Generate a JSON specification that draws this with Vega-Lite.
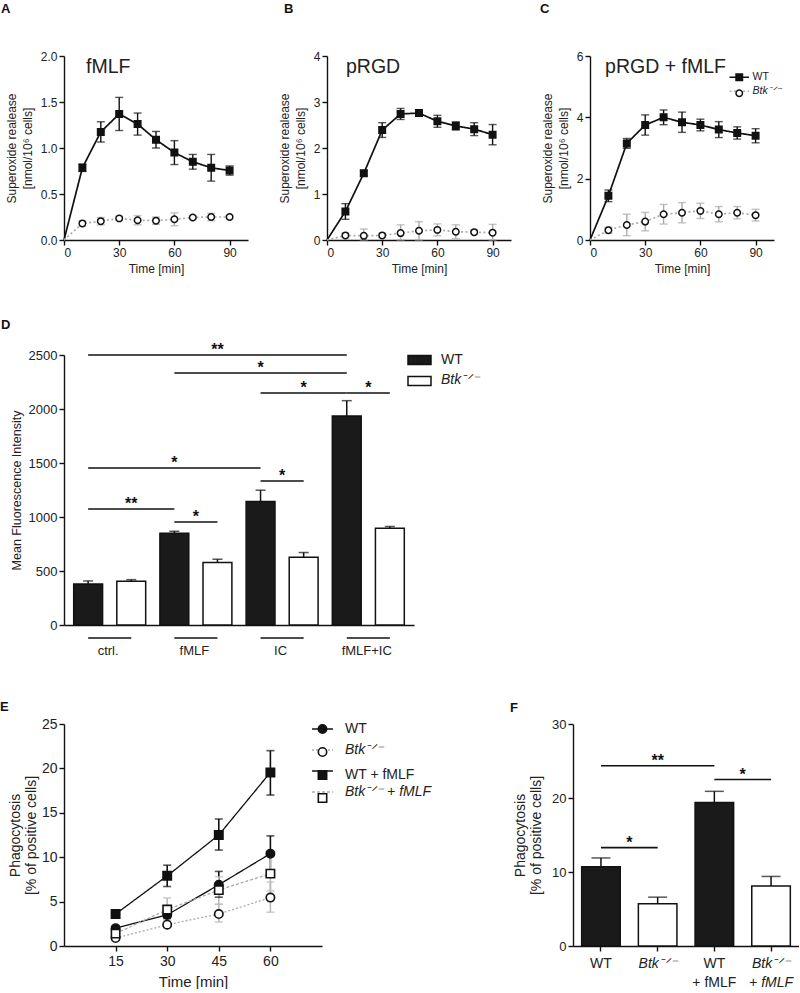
{
"$schema": "https://vega.github.io/schema/vega-lite/v6.json",
"padding": {"left": 0, "top": 3, "right": 0, "bottom": 0},
"background": "white",
"config": {
  "font": "Liberation Sans",
  "view": {"stroke": null},
  "axis": {"labelFont": "Liberation Sans", "titleFont": "Liberation Sans", "labelFontSize": 12, "titleFontSize": 12, "labelColor": "#222", "titleColor": "#222", "titleFontWeight": "normal", "domainColor": "#111", "domainWidth": 1.4, "tickColor": "#111", "tickWidth": 1.4, "tickSize": 5, "labelPadding": 2, "grid": false, "titleLineHeight": 16},
  "legend": {"padding": 0, "labelFont": "Liberation Sans", "labelColor": "#222"},
  "title": {"font": "Liberation Sans", "fontSize": 13, "fontWeight": "bold", "color": "#111", "anchor": "start", "frame": "group"}
},
"datasets": {
  "sox": [
    {"panel":"A","series":"WT","t":0,"v":0,"lo":0,"hi":0},
    {"panel":"A","series":"WT","t":10,"v":0.785,"lo":0.745,"hi":0.825},
    {"panel":"A","series":"WT","t":20,"v":1.175,"lo":1.065,"hi":1.285},
    {"panel":"A","series":"WT","t":30,"v":1.37,"lo":1.19,"hi":1.55},
    {"panel":"A","series":"WT","t":40,"v":1.26,"lo":1.14,"hi":1.38},
    {"panel":"A","series":"WT","t":50,"v":1.09,"lo":1.0,"hi":1.18},
    {"panel":"A","series":"WT","t":60,"v":0.95,"lo":0.82,"hi":1.08},
    {"panel":"A","series":"WT","t":70,"v":0.85,"lo":0.77,"hi":0.93},
    {"panel":"A","series":"WT","t":80,"v":0.785,"lo":0.64,"hi":0.93},
    {"panel":"A","series":"WT","t":90,"v":0.755,"lo":0.705,"hi":0.805},
    {"panel":"A","series":"Btk⁻ᐟ⁻","t":0,"v":0,"lo":0,"hi":0},
    {"panel":"A","series":"Btk⁻ᐟ⁻","t":10,"v":0.18,"lo":0.15,"hi":0.21},
    {"panel":"A","series":"Btk⁻ᐟ⁻","t":20,"v":0.205,"lo":0.165,"hi":0.245},
    {"panel":"A","series":"Btk⁻ᐟ⁻","t":30,"v":0.235,"lo":0.215,"hi":0.255},
    {"panel":"A","series":"Btk⁻ᐟ⁻","t":40,"v":0.215,"lo":0.165,"hi":0.265},
    {"panel":"A","series":"Btk⁻ᐟ⁻","t":50,"v":0.21,"lo":0.17,"hi":0.25},
    {"panel":"A","series":"Btk⁻ᐟ⁻","t":60,"v":0.225,"lo":0.155,"hi":0.295},
    {"panel":"A","series":"Btk⁻ᐟ⁻","t":70,"v":0.245,"lo":0.225,"hi":0.265},
    {"panel":"A","series":"Btk⁻ᐟ⁻","t":80,"v":0.25,"lo":0.21,"hi":0.29},
    {"panel":"A","series":"Btk⁻ᐟ⁻","t":90,"v":0.25,"lo":0.23,"hi":0.27},
    {"panel":"B","series":"WT","t":0,"v":0,"lo":0,"hi":0},
    {"panel":"B","series":"WT","t":10,"v":0.62,"lo":0.45,"hi":0.79},
    {"panel":"B","series":"WT","t":20,"v":1.45,"lo":1.39,"hi":1.51},
    {"panel":"B","series":"WT","t":30,"v":2.39,"lo":2.23,"hi":2.55},
    {"panel":"B","series":"WT","t":40,"v":2.74,"lo":2.62,"hi":2.86},
    {"panel":"B","series":"WT","t":50,"v":2.76,"lo":2.69,"hi":2.83},
    {"panel":"B","series":"WT","t":60,"v":2.58,"lo":2.45,"hi":2.71},
    {"panel":"B","series":"WT","t":70,"v":2.48,"lo":2.39,"hi":2.57},
    {"panel":"B","series":"WT","t":80,"v":2.41,"lo":2.27,"hi":2.55},
    {"panel":"B","series":"WT","t":90,"v":2.29,"lo":2.07,"hi":2.51},
    {"panel":"B","series":"Btk⁻ᐟ⁻","t":0,"v":0,"lo":0,"hi":0},
    {"panel":"B","series":"Btk⁻ᐟ⁻","t":10,"v":0.1,"lo":0.05,"hi":0.15},
    {"panel":"B","series":"Btk⁻ᐟ⁻","t":20,"v":0.09,"lo":0,"hi":0.24},
    {"panel":"B","series":"Btk⁻ᐟ⁻","t":30,"v":0.1,"lo":0.05,"hi":0.15},
    {"panel":"B","series":"Btk⁻ᐟ⁻","t":40,"v":0.15,"lo":0,"hi":0.33},
    {"panel":"B","series":"Btk⁻ᐟ⁻","t":50,"v":0.2,"lo":0,"hi":0.4},
    {"panel":"B","series":"Btk⁻ᐟ⁻","t":60,"v":0.22,"lo":0.09,"hi":0.35},
    {"panel":"B","series":"Btk⁻ᐟ⁻","t":70,"v":0.18,"lo":0.03,"hi":0.33},
    {"panel":"B","series":"Btk⁻ᐟ⁻","t":80,"v":0.17,"lo":0.12,"hi":0.22},
    {"panel":"B","series":"Btk⁻ᐟ⁻","t":90,"v":0.16,"lo":0,"hi":0.34},
    {"panel":"C","series":"WT","t":0,"v":0,"lo":0,"hi":0},
    {"panel":"C","series":"WT","t":10,"v":1.44,"lo":1.25,"hi":1.63},
    {"panel":"C","series":"WT","t":20,"v":3.15,"lo":2.99,"hi":3.31},
    {"panel":"C","series":"WT","t":30,"v":3.75,"lo":3.42,"hi":4.08},
    {"panel":"C","series":"WT","t":40,"v":4.0,"lo":3.76,"hi":4.24},
    {"panel":"C","series":"WT","t":50,"v":3.84,"lo":3.51,"hi":4.17},
    {"panel":"C","series":"WT","t":60,"v":3.75,"lo":3.56,"hi":3.94},
    {"panel":"C","series":"WT","t":70,"v":3.6,"lo":3.34,"hi":3.86},
    {"panel":"C","series":"WT","t":80,"v":3.49,"lo":3.29,"hi":3.69},
    {"panel":"C","series":"WT","t":90,"v":3.4,"lo":3.17,"hi":3.63},
    {"panel":"C","series":"Btk⁻ᐟ⁻","t":0,"v":0,"lo":0,"hi":0},
    {"panel":"C","series":"Btk⁻ᐟ⁻","t":10,"v":0.32,"lo":0.22,"hi":0.42},
    {"panel":"C","series":"Btk⁻ᐟ⁻","t":20,"v":0.49,"lo":0.14,"hi":0.84},
    {"panel":"C","series":"Btk⁻ᐟ⁻","t":30,"v":0.6,"lo":0.3,"hi":0.9},
    {"panel":"C","series":"Btk⁻ᐟ⁻","t":40,"v":0.84,"lo":0.52,"hi":1.16},
    {"panel":"C","series":"Btk⁻ᐟ⁻","t":50,"v":0.89,"lo":0.56,"hi":1.22},
    {"panel":"C","series":"Btk⁻ᐟ⁻","t":60,"v":0.95,"lo":0.7,"hi":1.2},
    {"panel":"C","series":"Btk⁻ᐟ⁻","t":70,"v":0.84,"lo":0.59,"hi":1.09},
    {"panel":"C","series":"Btk⁻ᐟ⁻","t":80,"v":0.89,"lo":0.69,"hi":1.09},
    {"panel":"C","series":"Btk⁻ᐟ⁻","t":90,"v":0.81,"lo":0.62,"hi":1.0}
  ],
  "ptitles": [
    {"panel":"A","label":"fMLF"},
    {"panel":"B","label":"pRGD"},
    {"panel":"C","label":"pRGD + fMLF"}
  ],
  "mfi": [
    {"cat":"ctrl.|WT","grp":"ctrl.","geno":"WT","v":380,"hi":408},
    {"cat":"ctrl.|Btk","grp":"ctrl.","geno":"Btk⁻ᐟ⁻","v":405,"hi":420},
    {"cat":"fMLF|WT","grp":"fMLF","geno":"WT","v":850,"hi":868},
    {"cat":"fMLF|Btk","grp":"fMLF","geno":"Btk⁻ᐟ⁻","v":578,"hi":609},
    {"cat":"IC|WT","grp":"IC","geno":"WT","v":1143,"hi":1248},
    {"cat":"IC|Btk","grp":"IC","geno":"Btk⁻ᐟ⁻","v":627,"hi":671},
    {"cat":"fMLF+IC|WT","grp":"fMLF+IC","geno":"WT","v":1935,"hi":2077},
    {"cat":"fMLF+IC|Btk","grp":"fMLF+IC","geno":"Btk⁻ᐟ⁻","v":896,"hi":912}
  ],
  "sigD": [
    {"a":"ctrl.|WT","b":"fMLF+IC|WT","y":2500,"s":"**","kind":"across","m":"fMLF|Btk"},
    {"a":"fMLF|WT","b":"fMLF+IC|WT","y":2333,"s":"*","kind":"across","m":"IC|WT"},
    {"a":"IC|WT","b":"fMLF+IC|WT","y":2148,"s":"*","kind":"across","m":"IC|Btk"},
    {"a":"fMLF+IC|WT","b":"fMLF+IC|Btk","y":2148,"s":"*","kind":"within","m":"fMLF+IC|WT"},
    {"a":"ctrl.|WT","b":"IC|WT","y":1454,"s":"*","kind":"across","m":"fMLF|WT"},
    {"a":"IC|WT","b":"IC|Btk","y":1333,"s":"*","kind":"within","m":"IC|WT"},
    {"a":"ctrl.|WT","b":"fMLF|WT","y":1074,"s":"**","kind":"across","m":"ctrl.|Btk"},
    {"a":"fMLF|WT","b":"fMLF|Btk","y":954,"s":"*","kind":"within","m":"fMLF|WT"}
  ],
  "grpD": [
    {"g":"ctrl.","a":"ctrl.|WT","b":"ctrl.|Btk"},
    {"g":"fMLF","a":"fMLF|WT","b":"fMLF|Btk"},
    {"g":"IC","a":"IC|WT","b":"IC|Btk"},
    {"g":"fMLF+IC","a":"fMLF+IC|WT","b":"fMLF+IC|Btk"}
  ],
  "phE": [
    {"series":"WT","t":15,"v":2.0,"lo":1.7,"hi":2.3},
    {"series":"WT","t":30,"v":3.5,"lo":3.1,"hi":3.9},
    {"series":"WT","t":45,"v":6.9,"lo":5.5,"hi":8.4},
    {"series":"WT","t":60,"v":10.4,"lo":8.4,"hi":12.4},
    {"series":"Btk⁻ᐟ⁻","t":15,"v":0.9,"lo":0.7,"hi":1.1},
    {"series":"Btk⁻ᐟ⁻","t":30,"v":2.4,"lo":2.1,"hi":2.7},
    {"series":"Btk⁻ᐟ⁻","t":45,"v":3.6,"lo":2.7,"hi":4.7},
    {"series":"Btk⁻ᐟ⁻","t":60,"v":5.45,"lo":3.8,"hi":7.2},
    {"series":"WT + fMLF","t":15,"v":3.6,"lo":3.2,"hi":4.0},
    {"series":"WT + fMLF","t":30,"v":7.9,"lo":6.7,"hi":9.1},
    {"series":"WT + fMLF","t":45,"v":12.5,"lo":10.8,"hi":14.3},
    {"series":"WT + fMLF","t":60,"v":19.55,"lo":17.0,"hi":22.0},
    {"series":"Btk⁻ᐟ⁻ + fMLF","t":15,"v":1.4,"lo":1.1,"hi":1.8},
    {"series":"Btk⁻ᐟ⁻ + fMLF","t":30,"v":4.1,"lo":2.85,"hi":5.4},
    {"series":"Btk⁻ᐟ⁻ + fMLF","t":45,"v":6.3,"lo":4.7,"hi":7.8},
    {"series":"Btk⁻ᐟ⁻ + fMLF","t":60,"v":8.15,"lo":6.2,"hi":10.1}
  ],
  "phF": [
    {"cat":"WT","geno":"WT","v":10.7,"hi":11.9},
    {"cat":"Btk⁻ᐟ⁻","geno":"Btk⁻ᐟ⁻","v":5.7,"hi":6.6},
    {"cat":"WT + fMLF","geno":"WT","v":19.4,"hi":20.9},
    {"cat":"Btk⁻ᐟ⁻ + fMLF","geno":"Btk⁻ᐟ⁻","v":8.1,"hi":9.4}
  ],
  "sigF": [
    {"a":"WT","b":"WT + fMLF","y":24.35,"s":"**","kind":"across","m":"Btk⁻ᐟ⁻"},
    {"a":"WT + fMLF","b":"Btk⁻ᐟ⁻ + fMLF","y":22.5,"s":"*","kind":"within","m":"WT + fMLF"},
    {"a":"WT","b":"Btk⁻ᐟ⁻","y":13.3,"s":"*","kind":"within","m":"WT"}
  ]
},
"resolve": {"scale": {"color": "independent", "fill": "independent", "stroke": "independent", "shape": "independent", "strokeDash": "independent"}, "legend": {"color": "independent", "fill": "independent", "stroke": "independent", "shape": "independent", "strokeDash": "independent"}},
"vconcat": [
 {
  "spacing": 45,
  "resolve": {"scale": {"color": "independent", "fill": "independent", "stroke": "independent", "shape": "independent", "strokeDash": "independent"}, "legend": {"color": "independent", "fill": "independent", "stroke": "independent", "shape": "independent", "strokeDash": "independent"}},
  "vconcat": [
   {
    "resolve": {"scale": {"color": "independent", "fill": "independent", "stroke": "independent", "shape": "independent", "strokeDash": "independent"}, "legend": {"color": "independent", "fill": "independent", "stroke": "independent", "shape": "independent", "strokeDash": "independent"}},
    "hconcat": [
     {
      "width": 184, "height": 184,
      "title": {"text": "A", "dx": -63, "offset": 34},
      "layer": [
       {"data": {"name": "sox"}, "transform": [{"filter": "datum.panel == 'A'"}],
        "mark": {"type": "line", "strokeWidth": 1.7},
        "encoding": {
         "x": {"field": "t", "type": "quantitative", "scale": {"domain": [0, 100], "nice": false}, "axis": {"values": [0, 30, 60, 90], "title": "Time [min]", "titlePadding": 5}},
         "y": {"field": "v", "type": "quantitative", "scale": {"domain": [0, 2], "nice": false}, "axis": {"values": [0, 0.5, 1, 1.5, 2], "format": ".1f", "title": ["Superoxide  realease", "[nmol/10⁶ cells]"], "titlePadding": 6}},
         "color": {"field": "series", "type": "nominal", "sort": "descending", "scale": {"range": ["#111", "#aaa"]}, "legend": null},
         "strokeDash": {"field": "series", "type": "nominal", "sort": "descending", "scale": {"range": [[1, 0], [2, 2.5]]}, "legend": null}}},
       {"data": {"name": "sox"}, "transform": [{"filter": "datum.panel == 'A' && datum.t > 0"}],
        "mark": {"type": "rule", "strokeWidth": 1.4},
        "encoding": {"x": {"field": "t", "type": "quantitative", "scale": {"domain": [0, 100], "nice": false}}, "y": {"field": "lo", "type": "quantitative", "scale": {"domain": [0, 2], "nice": false}}, "y2": {"field": "hi"}, "color": {"condition": {"test": "datum.series == 'WT'", "value": "#111"}, "value": "#aaa"}}},
       {"data": {"name": "sox"}, "transform": [{"filter": "datum.panel == 'A' && datum.t > 0"}],
        "mark": {"type": "tick", "orient": "horizontal", "size": 8, "thickness": 1.4},
        "encoding": {"x": {"field": "t", "type": "quantitative", "scale": {"domain": [0, 100], "nice": false}}, "y": {"field": "lo", "type": "quantitative", "scale": {"domain": [0, 2], "nice": false}}, "color": {"condition": {"test": "datum.series == 'WT'", "value": "#111"}, "value": "#aaa"}}},
       {"data": {"name": "sox"}, "transform": [{"filter": "datum.panel == 'A' && datum.t > 0"}],
        "mark": {"type": "tick", "orient": "horizontal", "size": 8, "thickness": 1.4},
        "encoding": {"x": {"field": "t", "type": "quantitative", "scale": {"domain": [0, 100], "nice": false}}, "y": {"field": "hi", "type": "quantitative", "scale": {"domain": [0, 2], "nice": false}}, "color": {"condition": {"test": "datum.series == 'WT'", "value": "#111"}, "value": "#aaa"}}},
       {"data": {"name": "sox"}, "transform": [{"filter": "datum.panel == 'A' && datum.t > 0"}],
        "mark": {"type": "point", "size": 42, "strokeWidth": 1.5, "stroke": "#111", "opacity": 1},
        "encoding": {"x": {"field": "t", "type": "quantitative", "scale": {"domain": [0, 100], "nice": false}}, "y": {"field": "v", "type": "quantitative", "scale": {"domain": [0, 2], "nice": false}},
         "shape": {"field": "series", "type": "nominal", "scale": {"domain": ["WT", "Btk⁻ᐟ⁻"], "range": ["square", "circle"]}, "legend": null},
         "fill": {"field": "series", "type": "nominal", "scale": {"domain": ["WT", "Btk⁻ᐟ⁻"], "range": ["#111", "white"]}, "legend": null}}},
       {"data": {"name": "ptitles"}, "transform": [{"filter": "datum.panel == 'A'"}],
        "mark": {"type": "text", "align": "left", "baseline": "alphabetic", "fontSize": 19.5, "color": "#222"},
        "encoding": {"x": {"datum": 12, "type": "quantitative", "scale": {"domain": [0, 100], "nice": false}}, "y": {"datum": 1.81, "type": "quantitative", "scale": {"domain": [0, 2], "nice": false}}, "text": {"field": "label"}}}
      ]
     },
     {
      "width": 184, "height": 184,
      "title": {"text": "B", "dx": -43, "offset": 34},
      "layer": [
       {"data": {"name": "sox"}, "transform": [{"filter": "datum.panel == 'B'"}],
        "mark": {"type": "line", "strokeWidth": 1.7},
        "encoding": {
         "x": {"field": "t", "type": "quantitative", "scale": {"domain": [0, 100], "nice": false}, "axis": {"values": [0, 30, 60, 90], "title": "Time [min]", "titlePadding": 5}},
         "y": {"field": "v", "type": "quantitative", "scale": {"domain": [0, 4], "nice": false}, "axis": {"values": [0, 1, 2, 3, 4], "title": ["Superoxide  realease", "[nmol/10⁶ cells]"], "titlePadding": 6}},
         "color": {"field": "series", "type": "nominal", "sort": "descending", "scale": {"range": ["#111", "#aaa"]}, "legend": null},
         "strokeDash": {"field": "series", "type": "nominal", "sort": "descending", "scale": {"range": [[1, 0], [2, 2.5]]}, "legend": null}}},
       {"data": {"name": "sox"}, "transform": [{"filter": "datum.panel == 'B' && datum.t > 0"}],
        "mark": {"type": "rule", "strokeWidth": 1.4},
        "encoding": {"x": {"field": "t", "type": "quantitative", "scale": {"domain": [0, 100], "nice": false}}, "y": {"field": "lo", "type": "quantitative", "scale": {"domain": [0, 4], "nice": false}}, "y2": {"field": "hi"}, "color": {"condition": {"test": "datum.series == 'WT'", "value": "#111"}, "value": "#aaa"}}},
       {"data": {"name": "sox"}, "transform": [{"filter": "datum.panel == 'B' && datum.t > 0"}],
        "mark": {"type": "tick", "orient": "horizontal", "size": 8, "thickness": 1.4},
        "encoding": {"x": {"field": "t", "type": "quantitative", "scale": {"domain": [0, 100], "nice": false}}, "y": {"field": "lo", "type": "quantitative", "scale": {"domain": [0, 4], "nice": false}}, "color": {"condition": {"test": "datum.series == 'WT'", "value": "#111"}, "value": "#aaa"}}},
       {"data": {"name": "sox"}, "transform": [{"filter": "datum.panel == 'B' && datum.t > 0"}],
        "mark": {"type": "tick", "orient": "horizontal", "size": 8, "thickness": 1.4},
        "encoding": {"x": {"field": "t", "type": "quantitative", "scale": {"domain": [0, 100], "nice": false}}, "y": {"field": "hi", "type": "quantitative", "scale": {"domain": [0, 4], "nice": false}}, "color": {"condition": {"test": "datum.series == 'WT'", "value": "#111"}, "value": "#aaa"}}},
       {"data": {"name": "sox"}, "transform": [{"filter": "datum.panel == 'B' && datum.t > 0"}],
        "mark": {"type": "point", "size": 42, "strokeWidth": 1.5, "stroke": "#111", "opacity": 1},
        "encoding": {"x": {"field": "t", "type": "quantitative", "scale": {"domain": [0, 100], "nice": false}}, "y": {"field": "v", "type": "quantitative", "scale": {"domain": [0, 4], "nice": false}},
         "shape": {"field": "series", "type": "nominal", "scale": {"domain": ["WT", "Btk⁻ᐟ⁻"], "range": ["square", "circle"]}, "legend": null},
         "fill": {"field": "series", "type": "nominal", "scale": {"domain": ["WT", "Btk⁻ᐟ⁻"], "range": ["#111", "white"]}, "legend": null}}},
       {"data": {"name": "ptitles"}, "transform": [{"filter": "datum.panel == 'B'"}],
        "mark": {"type": "text", "align": "left", "baseline": "alphabetic", "fontSize": 19.5, "color": "#222"},
        "encoding": {"x": {"datum": 10.3, "type": "quantitative", "scale": {"domain": [0, 100], "nice": false}}, "y": {"datum": 3.63, "type": "quantitative", "scale": {"domain": [0, 4], "nice": false}}, "text": {"field": "label"}}}
      ]
     },
     {
      "width": 184, "height": 184,
      "title": {"text": "C", "dx": -50, "offset": 34},
      "layer": [
       {"data": {"name": "sox"}, "transform": [{"filter": "datum.panel == 'C'"}],
        "mark": {"type": "line", "strokeWidth": 1.7},
        "encoding": {
         "x": {"field": "t", "type": "quantitative", "scale": {"domain": [0, 100], "nice": false}, "axis": {"values": [0, 30, 60, 90], "title": "Time [min]", "titlePadding": 5}},
         "y": {"field": "v", "type": "quantitative", "scale": {"domain": [0, 6], "nice": false}, "axis": {"values": [0, 2, 4, 6], "title": ["Superoxide  realease", "[nmol/10⁶ cells]"], "titlePadding": 6}},
         "color": {"field": "series", "type": "nominal", "sort": "descending", "scale": {"range": ["#111", "#aaa"]},
           "legend": {"orient": "none", "legendX": 144, "legendY": 16, "title": null, "symbolType": "M-3,0H3", "symbolSize": 42, "symbolStrokeWidth": 1.6, "labelExpr": "indexof(datum.label, 'Btk') >= 0 ? datum.label : ' '", "labelFontStyle": "italic", "labelFontSize": 10.5, "labelOffset": 8, "rowPadding": 3}},
         "strokeDash": {"field": "series", "type": "nominal", "sort": "descending", "scale": {"range": [[1, 0], [2, 2.5]]},
           "legend": {"orient": "none", "legendX": 144, "legendY": 16, "title": null, "symbolType": "M-3,0H3", "symbolSize": 42, "symbolStrokeWidth": 1.6, "labelExpr": "indexof(datum.label, 'Btk') >= 0 ? datum.label : ' '", "labelFontStyle": "italic", "labelFontSize": 10.5, "labelOffset": 8, "rowPadding": 3}}}},
       {"data": {"name": "sox"}, "transform": [{"filter": "datum.panel == 'C' && datum.t > 0"}],
        "mark": {"type": "rule", "strokeWidth": 1.4},
        "encoding": {"x": {"field": "t", "type": "quantitative", "scale": {"domain": [0, 100], "nice": false}}, "y": {"field": "lo", "type": "quantitative", "scale": {"domain": [0, 6], "nice": false}}, "y2": {"field": "hi"}, "color": {"condition": {"test": "datum.series == 'WT'", "value": "#111"}, "value": "#aaa"}}},
       {"data": {"name": "sox"}, "transform": [{"filter": "datum.panel == 'C' && datum.t > 0"}],
        "mark": {"type": "tick", "orient": "horizontal", "size": 8, "thickness": 1.4},
        "encoding": {"x": {"field": "t", "type": "quantitative", "scale": {"domain": [0, 100], "nice": false}}, "y": {"field": "lo", "type": "quantitative", "scale": {"domain": [0, 6], "nice": false}}, "color": {"condition": {"test": "datum.series == 'WT'", "value": "#111"}, "value": "#aaa"}}},
       {"data": {"name": "sox"}, "transform": [{"filter": "datum.panel == 'C' && datum.t > 0"}],
        "mark": {"type": "tick", "orient": "horizontal", "size": 8, "thickness": 1.4},
        "encoding": {"x": {"field": "t", "type": "quantitative", "scale": {"domain": [0, 100], "nice": false}}, "y": {"field": "hi", "type": "quantitative", "scale": {"domain": [0, 6], "nice": false}}, "color": {"condition": {"test": "datum.series == 'WT'", "value": "#111"}, "value": "#aaa"}}},
       {"data": {"name": "sox"}, "transform": [{"filter": "datum.panel == 'C' && datum.t > 0"}],
        "mark": {"type": "point", "size": 42, "strokeWidth": 1.5, "opacity": 1},
        "encoding": {"x": {"field": "t", "type": "quantitative", "scale": {"domain": [0, 100], "nice": false}}, "y": {"field": "v", "type": "quantitative", "scale": {"domain": [0, 6], "nice": false}},
         "shape": {"field": "series", "type": "nominal", "scale": {"domain": ["WT", "Btk⁻ᐟ⁻"], "range": ["square", "circle"]},
           "legend": {"orient": "none", "legendX": 144, "legendY": 16, "title": null, "symbolSize": 42, "symbolStrokeWidth": 1.5, "labelExpr": "indexof(datum.label, 'Btk') >= 0 ? ' ' : datum.label", "labelFontSize": 10.5, "labelOffset": 8, "rowPadding": 3}},
         "fill": {"field": "series", "type": "nominal", "scale": {"domain": ["WT", "Btk⁻ᐟ⁻"], "range": ["#111", "white"]},
           "legend": {"orient": "none", "legendX": 144, "legendY": 16, "title": null, "symbolSize": 42, "symbolStrokeWidth": 1.5, "labelExpr": "indexof(datum.label, 'Btk') >= 0 ? ' ' : datum.label", "labelFontSize": 10.5, "labelOffset": 8, "rowPadding": 3}},
         "stroke": {"field": "series", "type": "nominal", "scale": {"domain": ["WT", "Btk⁻ᐟ⁻"], "range": ["#111", "#111"]},
           "legend": {"orient": "none", "legendX": 144, "legendY": 16, "title": null, "symbolSize": 42, "symbolStrokeWidth": 1.5, "labelExpr": "indexof(datum.label, 'Btk') >= 0 ? ' ' : datum.label", "labelFontSize": 10.5, "labelOffset": 8, "rowPadding": 3}}}},
       {"data": {"name": "ptitles"}, "transform": [{"filter": "datum.panel == 'C'"}],
        "mark": {"type": "text", "align": "left", "baseline": "alphabetic", "fontSize": 19.5, "color": "#222"},
        "encoding": {"x": {"datum": 8.2, "type": "quantitative", "scale": {"domain": [0, 100], "nice": false}}, "y": {"datum": 5.45, "type": "quantitative", "scale": {"domain": [0, 6], "nice": false}}, "text": {"field": "label"}}}
      ]
     }
    ],
    "spacing": 79,
    "bounds": "flush"
   },
   {
    "width": 350, "height": 270,
    "title": {"text": "D", "dx": -63, "offset": 10},
    "layer": [
     {"data": {"name": "mfi"}, "mark": {"type": "bar", "strokeWidth": 1.5},
      "encoding": {
       "x": {"field": "cat", "type": "nominal", "scale": {"type": "band", "domain": ["ctrl.|WT","ctrl.|Btk","fMLF|WT","fMLF|Btk","IC|WT","IC|Btk","fMLF+IC|WT","fMLF+IC|Btk"], "paddingInner": 0.33, "paddingOuter": 0.225}, "axis": {"labels": false, "ticks": false, "title": null, "domainWidth": 1.6}},
       "y": {"field": "v", "type": "quantitative", "scale": {"domain": [0, 2500], "nice": false}, "axis": {"values": [0, 500, 1000, 1500, 2000, 2500], "format": "d", "title": "Mean Fluorescence Intensity", "labelFontSize": 13, "titleFontSize": 12.5, "titlePadding": 5}},
       "fill": {"field": "geno", "type": "nominal", "scale": {"domain": ["WT", "Btk⁻ᐟ⁻"], "range": ["#1a1a1a", "white"]},
         "legend": {"orient": "none", "legendX": 343, "legendY": -7.5, "title": null, "symbolType": "M-1,-0.4H1V0.4H-1Z", "symbolSize": 529, "symbolStrokeColor": "#111", "symbolStrokeWidth": 1.5, "labelFontSize": 14, "labelOffset": 9, "rowPadding": -1, "labelExpr": "indexof(datum.label, 'Btk') >= 0 ? ' ' : datum.label"}},
       "stroke": {"field": "geno", "type": "nominal", "sort": ["WT", "Btk⁻ᐟ⁻"], "scale": {"range": ["#111", "#111"]},
         "legend": {"orient": "none", "legendX": 343, "legendY": -7.5, "title": null, "symbolType": "M-1,-0.4H1V0.4H-1Z", "symbolSize": 529, "symbolOpacity": 0, "symbolStrokeWidth": 1.5, "labelFontSize": 14, "labelOffset": 9, "rowPadding": -1, "labelFontStyle": "italic", "labelExpr": "indexof(datum.label, 'Btk') >= 0 ? datum.label : ' '"}}}},
     {"data": {"name": "mfi"}, "mark": {"type": "rule", "strokeWidth": 1.5, "color": "#111"},
      "encoding": {
       "x": {"field": "cat", "type": "nominal", "bandPosition": 0.5, "scale": {"type": "band", "domain": ["ctrl.|WT","ctrl.|Btk","fMLF|WT","fMLF|Btk","IC|WT","IC|Btk","fMLF+IC|WT","fMLF+IC|Btk"], "paddingInner": 0.33, "paddingOuter": 0.225}},
       "y": {"field": "v", "type": "quantitative", "scale": {"domain": [0, 2500], "nice": false}},
       "y2": {"field": "hi"}}},
     {"data": {"name": "mfi"}, "mark": {"type": "tick", "size": 10, "thickness": 1.5, "color": "#111", "orient": "horizontal"},
      "encoding": {
       "x": {"field": "cat", "type": "nominal", "bandPosition": 0.5, "scale": {"type": "band", "domain": ["ctrl.|WT","ctrl.|Btk","fMLF|WT","fMLF|Btk","IC|WT","IC|Btk","fMLF+IC|WT","fMLF+IC|Btk"], "paddingInner": 0.33, "paddingOuter": 0.225}},
       "y": {"field": "hi", "type": "quantitative", "scale": {"domain": [0, 2500], "nice": false}}}},
     {"data": {"name": "sigD"}, "mark": {"type": "rule", "strokeWidth": 1.6, "color": "#111"},
      "encoding": {
       "x": {"field": "a", "type": "nominal", "bandPosition": 0.5, "scale": {"type": "band", "domain": ["ctrl.|WT","ctrl.|Btk","fMLF|WT","fMLF|Btk","IC|WT","IC|Btk","fMLF+IC|WT","fMLF+IC|Btk"], "paddingInner": 0.33, "paddingOuter": 0.225}},
       "x2": {"field": "b"},
       "y": {"field": "y", "type": "quantitative", "scale": {"domain": [0, 2500], "nice": false}}}},
     {"data": {"name": "sigD"}, "transform": [{"filter": "datum.kind == 'across'"}],
      "mark": {"type": "text", "fontSize": 16, "fontWeight": "bold", "color": "#111", "baseline": "alphabetic", "align": "center"},
      "encoding": {
       "x": {"field": "m", "type": "nominal", "bandPosition": 0.5, "scale": {"type": "band", "domain": ["ctrl.|WT","ctrl.|Btk","fMLF|WT","fMLF|Btk","IC|WT","IC|Btk","fMLF+IC|WT","fMLF+IC|Btk"], "paddingInner": 0.33, "paddingOuter": 0.225}},
       "y": {"field": "y", "type": "quantitative", "scale": {"domain": [0, 2500], "nice": false}},
       "text": {"field": "s"}}},
     {"data": {"name": "sigD"}, "transform": [{"filter": "datum.kind == 'within'"}],
      "mark": {"type": "text", "fontSize": 16, "fontWeight": "bold", "color": "#111", "baseline": "alphabetic", "align": "center", "dx": 21.5},
      "encoding": {
       "x": {"field": "m", "type": "nominal", "bandPosition": 0.5, "scale": {"type": "band", "domain": ["ctrl.|WT","ctrl.|Btk","fMLF|WT","fMLF|Btk","IC|WT","IC|Btk","fMLF+IC|WT","fMLF+IC|Btk"], "paddingInner": 0.33, "paddingOuter": 0.225}},
       "y": {"field": "y", "type": "quantitative", "scale": {"domain": [0, 2500], "nice": false}},
       "text": {"field": "s"}}},
     {"data": {"name": "grpD"}, "mark": {"type": "rule", "strokeWidth": 1.6, "color": "#111"},
      "encoding": {
       "x": {"field": "a", "type": "nominal", "bandPosition": 0.5, "scale": {"type": "band", "domain": ["ctrl.|WT","ctrl.|Btk","fMLF|WT","fMLF|Btk","IC|WT","IC|Btk","fMLF+IC|WT","fMLF+IC|Btk"], "paddingInner": 0.33, "paddingOuter": 0.225}},
       "x2": {"field": "b"},
       "y": {"datum": -120, "type": "quantitative", "scale": {"domain": [0, 2500], "nice": false}}}},
     {"data": {"name": "grpD"},
      "mark": {"type": "text", "fontSize": 13, "color": "#222", "baseline": "alphabetic", "align": "center", "dx": 20},
      "encoding": {
       "x": {"field": "a", "type": "nominal", "bandPosition": 0.5, "scale": {"type": "band", "domain": ["ctrl.|WT","ctrl.|Btk","fMLF|WT","fMLF|Btk","IC|WT","IC|Btk","fMLF+IC|WT","fMLF+IC|Btk"], "paddingInner": 0.33, "paddingOuter": 0.225}},
       "y": {"datum": -282, "type": "quantitative", "scale": {"domain": [0, 2500], "nice": false}},
       "text": {"field": "g"}}}
    ]
   }
  ]
 },
 {
  "resolve": {"scale": {"color": "independent", "fill": "independent", "stroke": "independent", "shape": "independent", "strokeDash": "independent"}, "legend": {"color": "independent", "fill": "independent", "stroke": "independent", "shape": "independent", "strokeDash": "independent"}},
  "hconcat": [
   {
    "width": 258, "height": 222,
    "title": {"text": "E", "dx": -64, "offset": 3},
    "data": {"name": "phE"},
    "encoding": {"x": {"field": "t", "type": "quantitative", "scale": {"domain": [0, 75], "nice": false}, "axis": {"values": [15, 30, 45, 60], "title": "Time [min]", "labelFontSize": 14, "titleFontSize": 15, "labelPadding": 3, "titlePadding": 6}}},
    "layer": [
     {"mark": {"type": "line", "strokeWidth": 1.3},
      "encoding": {
       "y": {"field": "v", "type": "quantitative", "scale": {"domain": [0, 25], "nice": false}, "axis": {"values": [0, 5, 10, 15, 20, 25], "title": ["Phagocytosis", "[% of positive cells]"], "labelFontSize": 14, "titleFontSize": 14, "titleLineHeight": 16, "titlePadding": 3}},
       "color": {"field": "series", "type": "nominal", "sort": "descending", "scale": {"range": ["#111", "#111", "#aaa", "#aaa"]},
         "legend": {"orient": "none", "legendX": 251.5, "legendY": -2, "title": null, "values": ["WT", "Btk⁻ᐟ⁻", "WT + fMLF", "Btk⁻ᐟ⁻ + fMLF"], "symbolType": "M-2.5,0H2.5", "symbolSize": 70, "symbolStrokeWidth": 1.3, "labelExpr": "indexof(datum.label, 'Btk') >= 0 ? datum.label : ' '", "labelFontStyle": "italic", "labelFontSize": 14, "labelOffset": 15.5, "rowPadding": 7}},
       "strokeDash": {"field": "series", "type": "nominal", "sort": "descending", "scale": {"range": [[1, 0], [1, 0], [3, 2], [2, 2]]},
         "legend": {"orient": "none", "legendX": 251.5, "legendY": -2, "title": null, "values": ["WT", "Btk⁻ᐟ⁻", "WT + fMLF", "Btk⁻ᐟ⁻ + fMLF"], "symbolType": "M-2.5,0H2.5", "symbolSize": 70, "symbolStrokeWidth": 1.3, "labelExpr": "indexof(datum.label, 'Btk') >= 0 ? datum.label : ' '", "labelFontStyle": "italic", "labelFontSize": 14, "labelOffset": 15.5, "rowPadding": 7}}}},
     {"mark": {"type": "rule", "strokeWidth": 1.6},
      "encoding": {"y": {"field": "lo", "type": "quantitative", "scale": {"domain": [0, 25], "nice": false}}, "y2": {"field": "hi"}, "color": {"condition": {"test": "indexof(datum.series, 'Btk') >= 0", "value": "#bbb"}, "value": "#111"}}},
     {"mark": {"type": "tick", "orient": "horizontal", "size": 8, "thickness": 1.6},
      "encoding": {"y": {"field": "lo", "type": "quantitative", "scale": {"domain": [0, 25], "nice": false}}, "color": {"condition": {"test": "indexof(datum.series, 'Btk') >= 0", "value": "#bbb"}, "value": "#111"}}},
     {"mark": {"type": "tick", "orient": "horizontal", "size": 8, "thickness": 1.6},
      "encoding": {"y": {"field": "hi", "type": "quantitative", "scale": {"domain": [0, 25], "nice": false}}, "color": {"condition": {"test": "indexof(datum.series, 'Btk') >= 0", "value": "#bbb"}, "value": "#111"}}},
     {"mark": {"type": "point", "size": 70, "strokeWidth": 1.6, "opacity": 1},
      "encoding": {"y": {"field": "v", "type": "quantitative", "scale": {"domain": [0, 25], "nice": false}},
       "shape": {"field": "series", "type": "nominal", "scale": {"domain": ["WT", "Btk⁻ᐟ⁻", "WT + fMLF", "Btk⁻ᐟ⁻ + fMLF"], "range": ["circle", "circle", "square", "square"]},
         "legend": {"orient": "none", "legendX": 251.5, "legendY": -2, "title": null, "symbolSize": 70, "symbolStrokeWidth": 1.6, "labelExpr": "indexof(datum.label, 'Btk') >= 0 ? ' ' : datum.label", "labelFontSize": 14, "labelOffset": 15.5, "rowPadding": 7}},
       "fill": {"field": "series", "type": "nominal", "scale": {"domain": ["WT", "Btk⁻ᐟ⁻", "WT + fMLF", "Btk⁻ᐟ⁻ + fMLF"], "range": ["#111", "white", "#111", "white"]},
         "legend": {"orient": "none", "legendX": 251.5, "legendY": -2, "title": null, "symbolSize": 70, "symbolStrokeWidth": 1.6, "labelExpr": "indexof(datum.label, 'Btk') >= 0 ? ' ' : datum.label", "labelFontSize": 14, "labelOffset": 15.5, "rowPadding": 7}},
       "stroke": {"field": "series", "type": "nominal", "scale": {"domain": ["WT", "Btk⁻ᐟ⁻", "WT + fMLF", "Btk⁻ᐟ⁻ + fMLF"], "range": ["#111", "#111", "#111", "#111"]},
         "legend": {"orient": "none", "legendX": 251.5, "legendY": -2, "title": null, "symbolSize": 70, "symbolStrokeWidth": 1.6, "labelExpr": "indexof(datum.label, 'Btk') >= 0 ? ' ' : datum.label", "labelFontSize": 14, "labelOffset": 15.5, "rowPadding": 7}}}}
    ]
   },
   {
    "width": 226, "height": 222,
    "title": {"text": "F", "dx": -63, "offset": 3},
    "layer": [
     {"data": {"name": "phF"}, "mark": {"type": "bar", "stroke": "#111", "strokeWidth": 1.5},
      "encoding": {
       "x": {"field": "cat", "type": "nominal", "scale": {"type": "band", "domain": ["WT", "Btk⁻ᐟ⁻", "WT + fMLF", "Btk⁻ᐟ⁻ + fMLF"], "paddingInner": 0.32, "paddingOuter": 0.153},
         "axis": {"title": null, "labelAngle": 0, "labelFontSize": 14, "labelPadding": 5, "labelLineHeight": 19, "labelExpr": "indexof(datum.label, ' + ') > 0 ? [substring(datum.label, 0, indexof(datum.label, ' + ')), '+ fMLF'] : datum.label", "labelFontStyle": {"condition": {"test": "indexof(datum.label, 'Btk') >= 0", "value": "italic"}, "value": "normal"}}},
       "y": {"field": "v", "type": "quantitative", "scale": {"domain": [0, 30], "nice": false}, "axis": {"values": [0, 10, 20, 30], "title": ["Phagocytosis", "[% of positive cells]"], "labelFontSize": 13, "titleFontSize": 14, "titleLineHeight": 16, "titlePadding": 8}},
       "fill": {"field": "geno", "type": "nominal", "scale": {"domain": ["WT", "Btk⁻ᐟ⁻"], "range": ["#1a1a1a", "white"]}, "legend": null}}},
     {"data": {"name": "phF"}, "mark": {"type": "rule", "strokeWidth": 1.5, "color": "#111"},
      "encoding": {
       "x": {"field": "cat", "type": "nominal", "bandPosition": 0.5, "scale": {"type": "band", "domain": ["WT", "Btk⁻ᐟ⁻", "WT + fMLF", "Btk⁻ᐟ⁻ + fMLF"], "paddingInner": 0.32, "paddingOuter": 0.153}},
       "y": {"field": "v", "type": "quantitative", "scale": {"domain": [0, 30], "nice": false}},
       "y2": {"field": "hi"}}},
     {"data": {"name": "phF"}, "mark": {"type": "tick", "size": 19, "thickness": 1.5, "color": "#111", "orient": "horizontal"},
      "encoding": {
       "x": {"field": "cat", "type": "nominal", "bandPosition": 0.5, "scale": {"type": "band", "domain": ["WT", "Btk⁻ᐟ⁻", "WT + fMLF", "Btk⁻ᐟ⁻ + fMLF"], "paddingInner": 0.32, "paddingOuter": 0.153}},
       "y": {"field": "hi", "type": "quantitative", "scale": {"domain": [0, 30], "nice": false}}}},
     {"data": {"name": "sigF"}, "mark": {"type": "rule", "strokeWidth": 1.6, "color": "#111"},
      "encoding": {
       "x": {"field": "a", "type": "nominal", "bandPosition": 0.5, "scale": {"type": "band", "domain": ["WT", "Btk⁻ᐟ⁻", "WT + fMLF", "Btk⁻ᐟ⁻ + fMLF"], "paddingInner": 0.32, "paddingOuter": 0.153}},
       "x2": {"field": "b"},
       "y": {"field": "y", "type": "quantitative", "scale": {"domain": [0, 30], "nice": false}}}},
     {"data": {"name": "sigF"}, "transform": [{"filter": "datum.kind == 'across'"}],
      "mark": {"type": "text", "fontSize": 16, "fontWeight": "bold", "color": "#111", "baseline": "alphabetic", "align": "center"},
      "encoding": {
       "x": {"field": "m", "type": "nominal", "bandPosition": 0.5, "scale": {"type": "band", "domain": ["WT", "Btk⁻ᐟ⁻", "WT + fMLF", "Btk⁻ᐟ⁻ + fMLF"], "paddingInner": 0.32, "paddingOuter": 0.153}},
       "y": {"field": "y", "type": "quantitative", "scale": {"domain": [0, 30], "nice": false}},
       "text": {"field": "s"}}},
     {"data": {"name": "sigF"}, "transform": [{"filter": "datum.kind == 'within'"}],
      "mark": {"type": "text", "fontSize": 16, "fontWeight": "bold", "color": "#111", "baseline": "alphabetic", "align": "center", "dx": 28.3},
      "encoding": {
       "x": {"field": "m", "type": "nominal", "bandPosition": 0.5, "scale": {"type": "band", "domain": ["WT", "Btk⁻ᐟ⁻", "WT + fMLF", "Btk⁻ᐟ⁻ + fMLF"], "paddingInner": 0.32, "paddingOuter": 0.153}},
       "y": {"field": "y", "type": "quantitative", "scale": {"domain": [0, 30], "nice": false}},
       "text": {"field": "s"}}}
    ]
   }
  ],
  "spacing": 251,
  "bounds": "flush"
 }
],
"spacing": 42
}
